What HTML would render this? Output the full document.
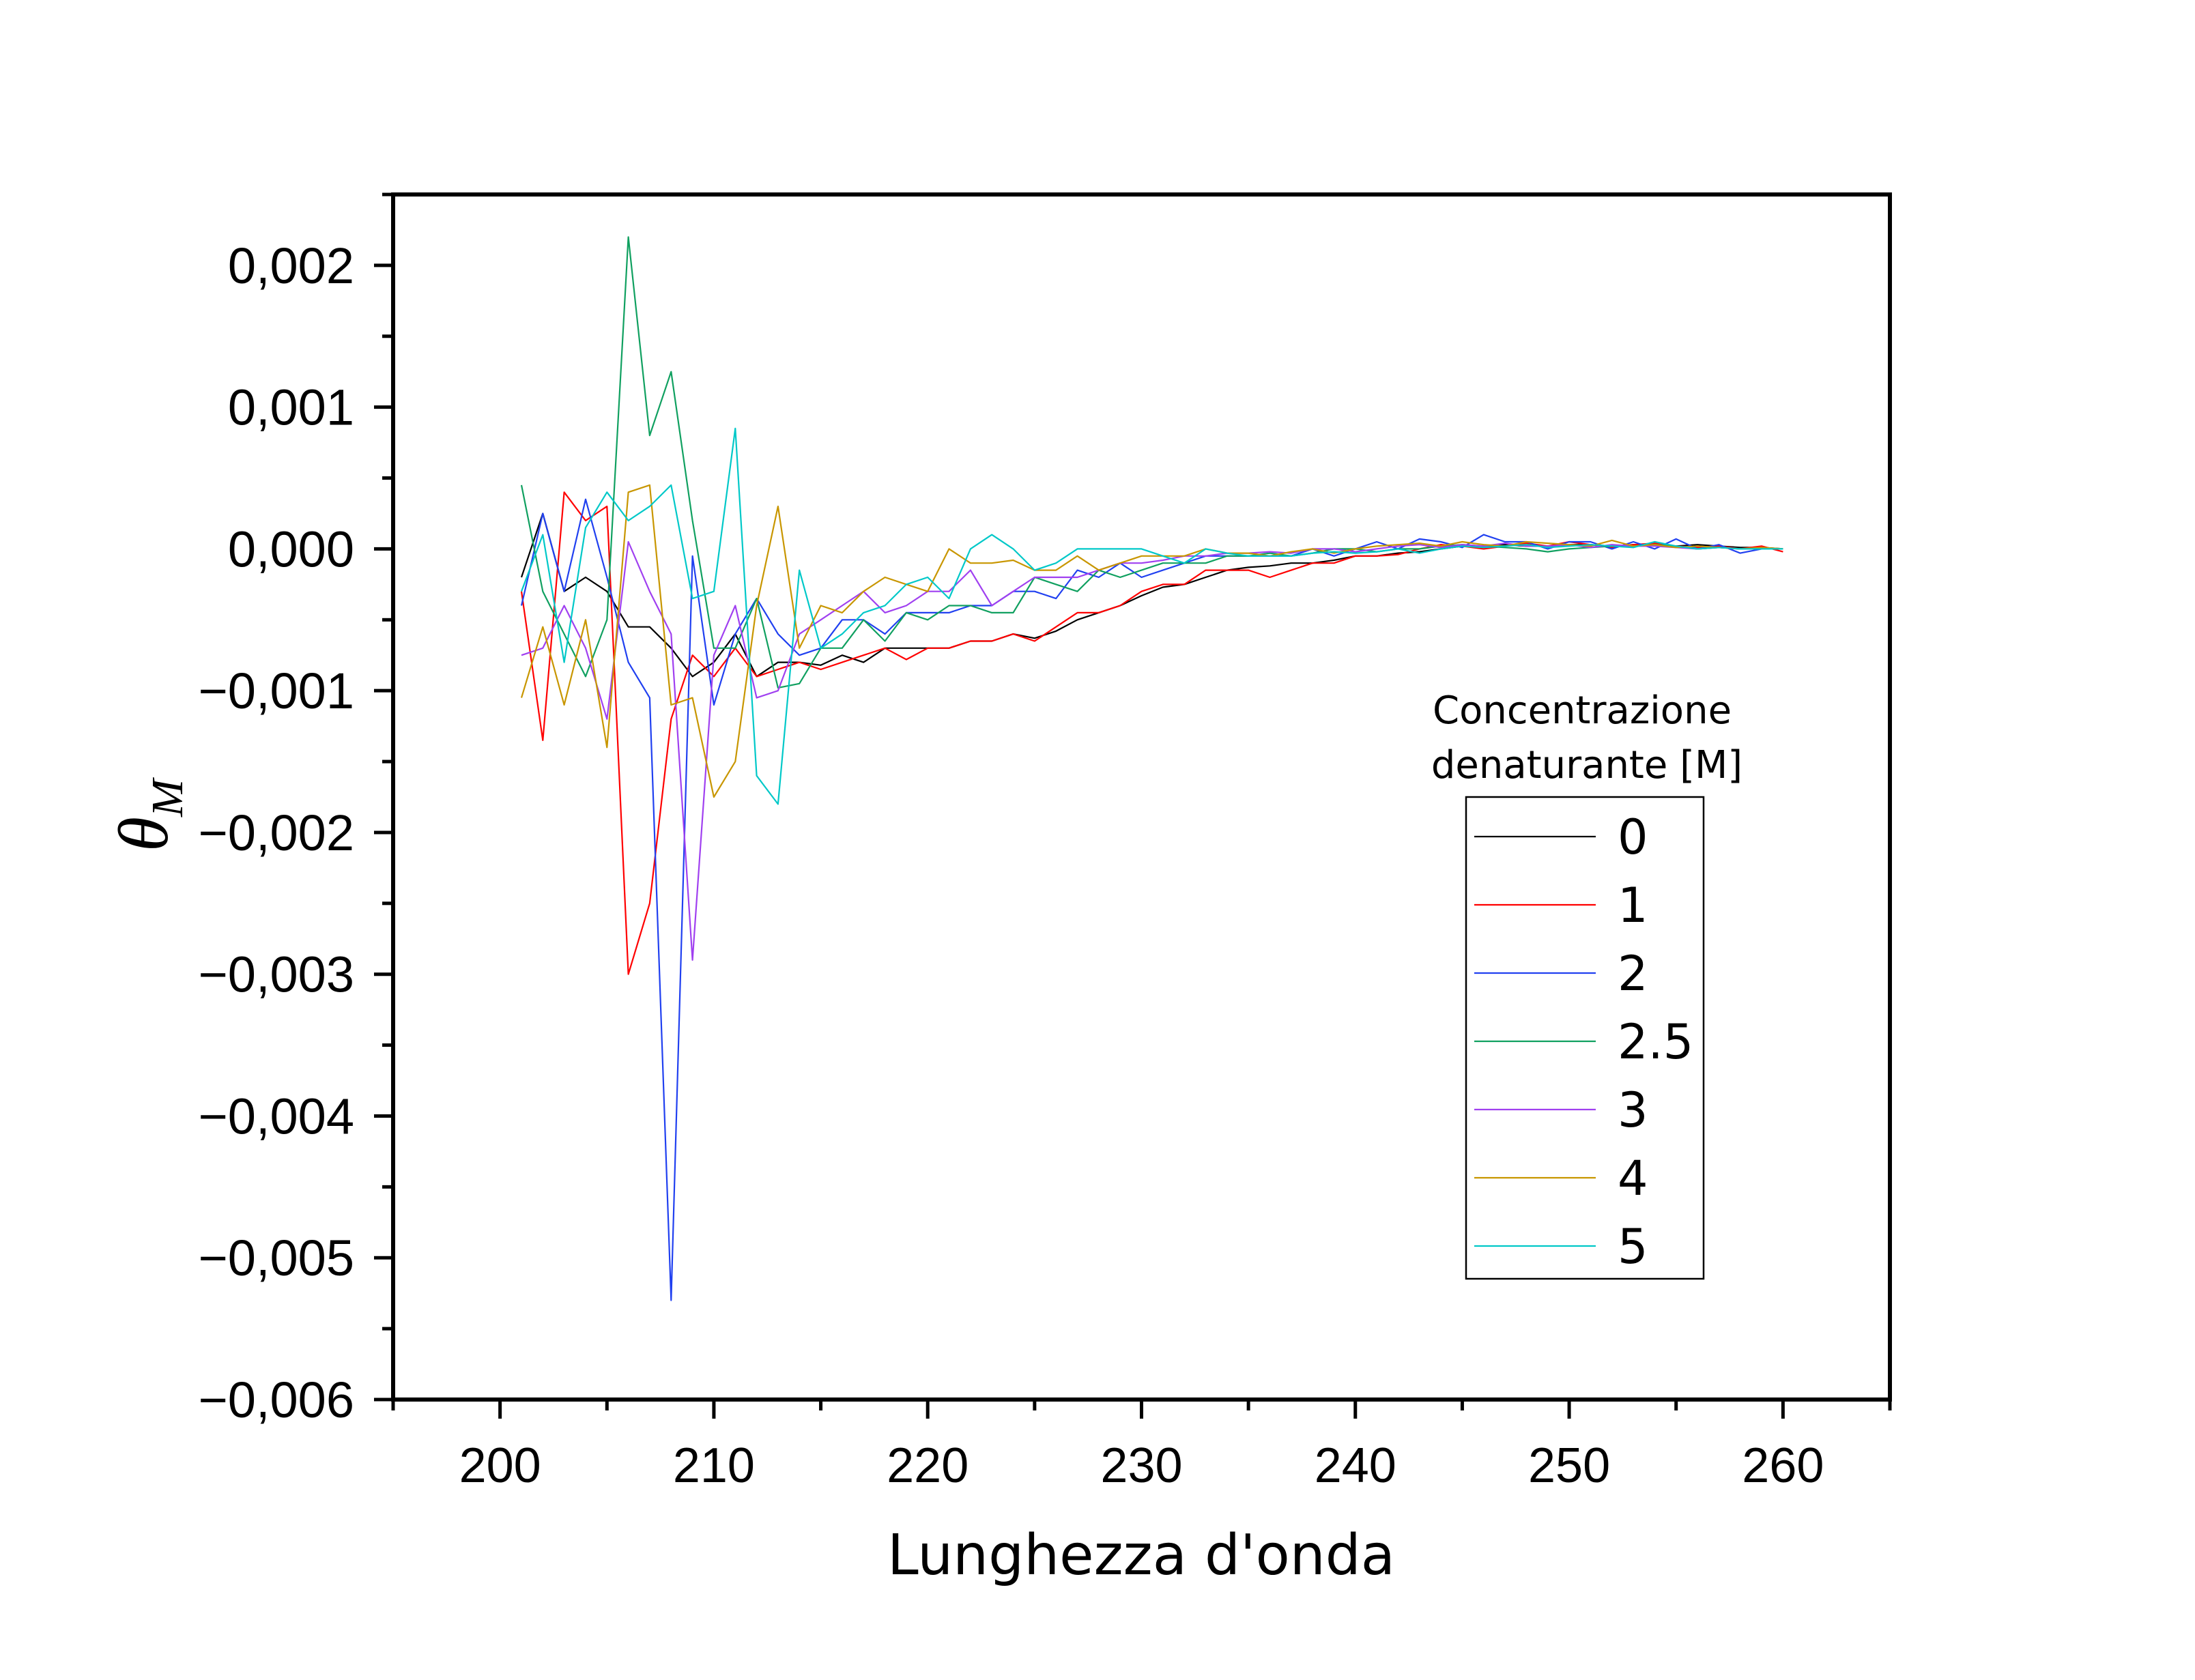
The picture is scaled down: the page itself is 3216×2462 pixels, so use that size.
<!DOCTYPE html>
<html><head><meta charset="utf-8"><style>html,body{margin:0;padding:0;background:#fff}svg{display:block}</style></head>
<body>
<svg id="chart" width="3216" height="2462" viewBox="0 0 3216 2462" xmlns="http://www.w3.org/2000/svg" font-family="Liberation Sans, sans-serif">
<rect width="3216" height="2462" fill="#fff"/>
<g id="series"></g>
<rect x="576" y="285" width="2193" height="1766" fill="none" stroke="#000" stroke-width="6"/>
<g id="axes"></g>
<text x="1672" y="2307" font-size="82" text-anchor="middle" font-family="DejaVu Sans, sans-serif">Lunghezza d'onda</text>
<text transform="translate(245,1195) rotate(-90)" font-size="104" text-anchor="middle" font-family="Liberation Serif, serif" font-style="italic">θ<tspan font-size="66" dy="22">M</tspan></text>
<text x="2318" y="1060" font-size="56" text-anchor="middle" font-family="DejaVu Sans, sans-serif">Concentrazione</text>
<text x="2325" y="1140" font-size="56" text-anchor="middle" font-family="DejaVu Sans, sans-serif">denaturante [M]</text>
<rect x="2148" y="1168" width="348" height="706" fill="#fff" stroke="#000" stroke-width="2.5"/>
<g id="legend"></g>
</svg>
<script>
const wavelengths = [];
for (let w = 201; w <= 260; w++) wavelengths.push(w);
const seriesNames = ["0","1","2","2.5","3","4","5"];
const seriesColors = ["#000000","#ff0000","#2040f0","#10a060","#a040f0","#c89600","#00c8c8"];
const s0 = [-0.0002,0.00025,-0.0003,-0.0002,-0.0003,-0.00055,-0.00055,-0.0007,-0.0009,-0.0008,-0.0006,-0.0009,-0.0008,-0.0008,-0.00082,-0.00075,-0.0008,-0.0007,-0.0007,-0.0007,-0.0007,-0.00065,-0.00065,-0.0006,-0.00063,-0.00058,-0.0005,-0.00045,-0.0004,-0.00033,-0.00027,-0.00025,-0.0002,-0.00015,-0.00013,-0.00012,-0.0001,-0.0001,-0.00008,-0.00005,-0.00005,-0.00003,-0.00002,0,0.00002,0.00002,0.00003,0.00002,0.00002,0.00003,0.00003,0.00002,0.00003,0.00003,0.00002,0.00003,0.00002,0.00001,0.00001,0];
const s1 = [-0.0003,-0.00135,0.0004,0.0002,0.0003,-0.003,-0.0025,-0.0012,-0.00075,-0.0009,-0.0007,-0.0009,-0.00085,-0.0008,-0.00085,-0.0008,-0.00075,-0.0007,-0.00078,-0.0007,-0.0007,-0.00065,-0.00065,-0.0006,-0.00065,-0.00055,-0.00045,-0.00045,-0.0004,-0.0003,-0.00025,-0.00025,-0.00015,-0.00015,-0.00015,-0.0002,-0.00015,-0.0001,-0.0001,-0.00005,-0.00005,-0.00004,0,0.00003,0.00002,0,0.00002,0.00004,0.00002,0.00005,0.00003,0.00001,0.00003,0.00004,0.00002,0.00001,0.00002,0,0.00002,-0.00002];
const s2 = [-0.0004,0.00025,-0.0003,0.00035,-0.0002,-0.0008,-0.00105,-0.0053,-0.00005,-0.0011,-0.0006,-0.00035,-0.0006,-0.00075,-0.0007,-0.0005,-0.0005,-0.0006,-0.00045,-0.00045,-0.00045,-0.0004,-0.0004,-0.0003,-0.0003,-0.00035,-0.00015,-0.0002,-0.0001,-0.0002,-0.00015,-0.0001,-0.00005,-0.00005,-0.00005,-0.00005,-0.00005,0,-0.00005,0,0.00005,0,0.00007,0.00005,0.00001,0.0001,0.00005,0.00005,0,0.00005,0.00005,0,0.00005,0,0.00007,0,0.00003,-0.00003,0,0];
const s25 = [0.00045,-0.0003,-0.0006,-0.0009,-0.0005,0.0022,0.0008,0.00125,0.0002,-0.0007,-0.0007,-0.00035,-0.00098,-0.00095,-0.0007,-0.0007,-0.0005,-0.00065,-0.00045,-0.0005,-0.0004,-0.0004,-0.00045,-0.00045,-0.0002,-0.00025,-0.0003,-0.00015,-0.0002,-0.00015,-0.0001,-0.0001,-0.0001,-0.00005,-0.00005,-0.00003,-0.00005,-0.00003,0,0,-0.00002,0,0,0.00002,0.00003,0.00002,0.00001,0,-0.00002,0,0.00001,0.00002,0.00002,0.00003,0.00002,0,0.00001,0,0,0];
const s3 = [-0.00075,-0.0007,-0.0004,-0.0007,-0.0012,0.00005,-0.0003,-0.0006,-0.0029,-0.00075,-0.0004,-0.00105,-0.001,-0.0006,-0.0005,-0.0004,-0.0003,-0.00045,-0.0004,-0.0003,-0.0003,-0.00015,-0.0004,-0.0003,-0.0002,-0.0002,-0.0002,-0.00015,-0.0001,-0.0001,-0.00008,-0.00005,-0.00005,-0.00003,-0.00003,-0.00002,-0.00003,0,0,-0.00002,0,0.00002,0.00003,0.00001,0.00003,0.00002,0.00004,0.00002,0.00002,0.00003,0.00001,0.00003,0.00002,0.00002,0.00001,0,0.00001,0,0,0];
const s4 = [-0.00105,-0.00055,-0.0011,-0.0005,-0.0014,0.0004,0.00045,-0.0011,-0.00105,-0.00175,-0.0015,-0.0004,0.0003,-0.0007,-0.0004,-0.00045,-0.0003,-0.0002,-0.00025,-0.0003,0,-0.0001,-0.0001,-0.00008,-0.00015,-0.00015,-0.00005,-0.00015,-0.0001,-0.00005,-0.00005,-0.00005,0,-0.00003,-0.00003,-0.00005,-0.00002,0,-0.00003,0,0.00002,0.00003,0.00004,0.00002,0.00005,0.00003,0.00002,0.00005,0.00004,0.00003,0.00002,0.00006,0.00002,0.00003,0.00001,0.00002,0.00001,0,0.00001,0];
const s5 = [-0.0003,0.0001,-0.0008,0.00015,0.0004,0.0002,0.0003,0.00045,-0.00035,-0.0003,0.00085,-0.0016,-0.0018,-0.00015,-0.0007,-0.0006,-0.00045,-0.0004,-0.00025,-0.0002,-0.00035,0,0.0001,0,-0.00015,-0.0001,0,0,0,0,-0.00005,-0.0001,0,-0.00003,-0.00005,-0.00005,-0.00005,-0.00003,-0.00002,-0.00003,-0.00002,0,-0.00003,0,0.00002,0.00001,0.00002,0.00003,0.00001,0.00002,0.00003,0.00002,0.00001,0.00005,0.00002,0,0.00001,0,0,0];
const seriesValues = [s0,s1,s2,s25,s3,s4,s5];
const xTicks = [200,210,220,230,240,250,260];
const yTicks = [0.002,0.001,0,-0.001,-0.002,-0.003,-0.004,-0.005,-0.006];
const yTickLabels = ["0,002","0,001","0,000","−0,001","−0,002","−0,003","−0,004","−0,005","−0,006"];

const NS = "http://www.w3.org/2000/svg";
const X0=576, X1=2769, Y0=285, Y1=2051, XMIN=195, XMAX=265, YMIN=-0.006, YMAX=0.0025;
function xs(v){return X0+(v-XMIN)/(XMAX-XMIN)*(X1-X0);}
function ys(v){return Y1-(v-YMIN)/(YMAX-YMIN)*(Y1-Y0);}
function mk(tag, attrs){const e=document.createElementNS(NS,tag);for(const k in attrs)e.setAttribute(k,attrs[k]);return e;}

const sg=document.getElementById("series");
seriesValues.forEach((vals,i)=>{
  const pts=vals.map((v,j)=>xs(wavelengths[j]).toFixed(1)+","+ys(v).toFixed(1)).join(" ");
  const pl=mk("polyline",{points:pts,fill:"none",stroke:seriesColors[i],"stroke-width":2.2,"stroke-linejoin":"round"});
  
  
  sg.appendChild(pl);
});

const ag=document.getElementById("axes");
for(let v=195; v<=265; v+=5){
  const major = xTicks.includes(v);
  const t=mk("line",{x1:xs(v),x2:xs(v),y1:Y1,y2:Y1+(major?28:16),stroke:"#000","stroke-width":5});
  
  
  ag.appendChild(t);
}
xTicks.forEach(v=>{
  const t=mk("text",{x:xs(v),y:2172,"font-size":72,"text-anchor":"middle"});
  t.textContent=v;
  
  
  ag.appendChild(t);
});
for(let k=0;k<=17;k++){
  const v=-0.006+k*0.0005;
  const major=(k%2===0);
  const t=mk("line",{x1:X0,x2:X0-(major?28:16),y1:ys(v),y2:ys(v),stroke:"#000","stroke-width":5});
  
  
  ag.appendChild(t);
}
yTicks.forEach((v,i)=>{
  const t=mk("text",{x:519,y:ys(v)+26,"font-size":74,"text-anchor":"end"});
  t.textContent=yTickLabels[i];
  
  
  ag.appendChild(t);
});

const lg=document.getElementById("legend");
seriesNames.forEach((n,i)=>{
  const y=1226+i*100;
  const l=mk("line",{x1:2160,x2:2338,y1:y,y2:y,stroke:seriesColors[i],"stroke-width":2.2});
  
  
  lg.appendChild(l);
  const t=mk("text",{x:2370,y:y+25,"font-size":70,"font-family":"DejaVu Sans, sans-serif"});
  t.textContent=n;
  
  
  lg.appendChild(t);
});
</script>
</body></html>
